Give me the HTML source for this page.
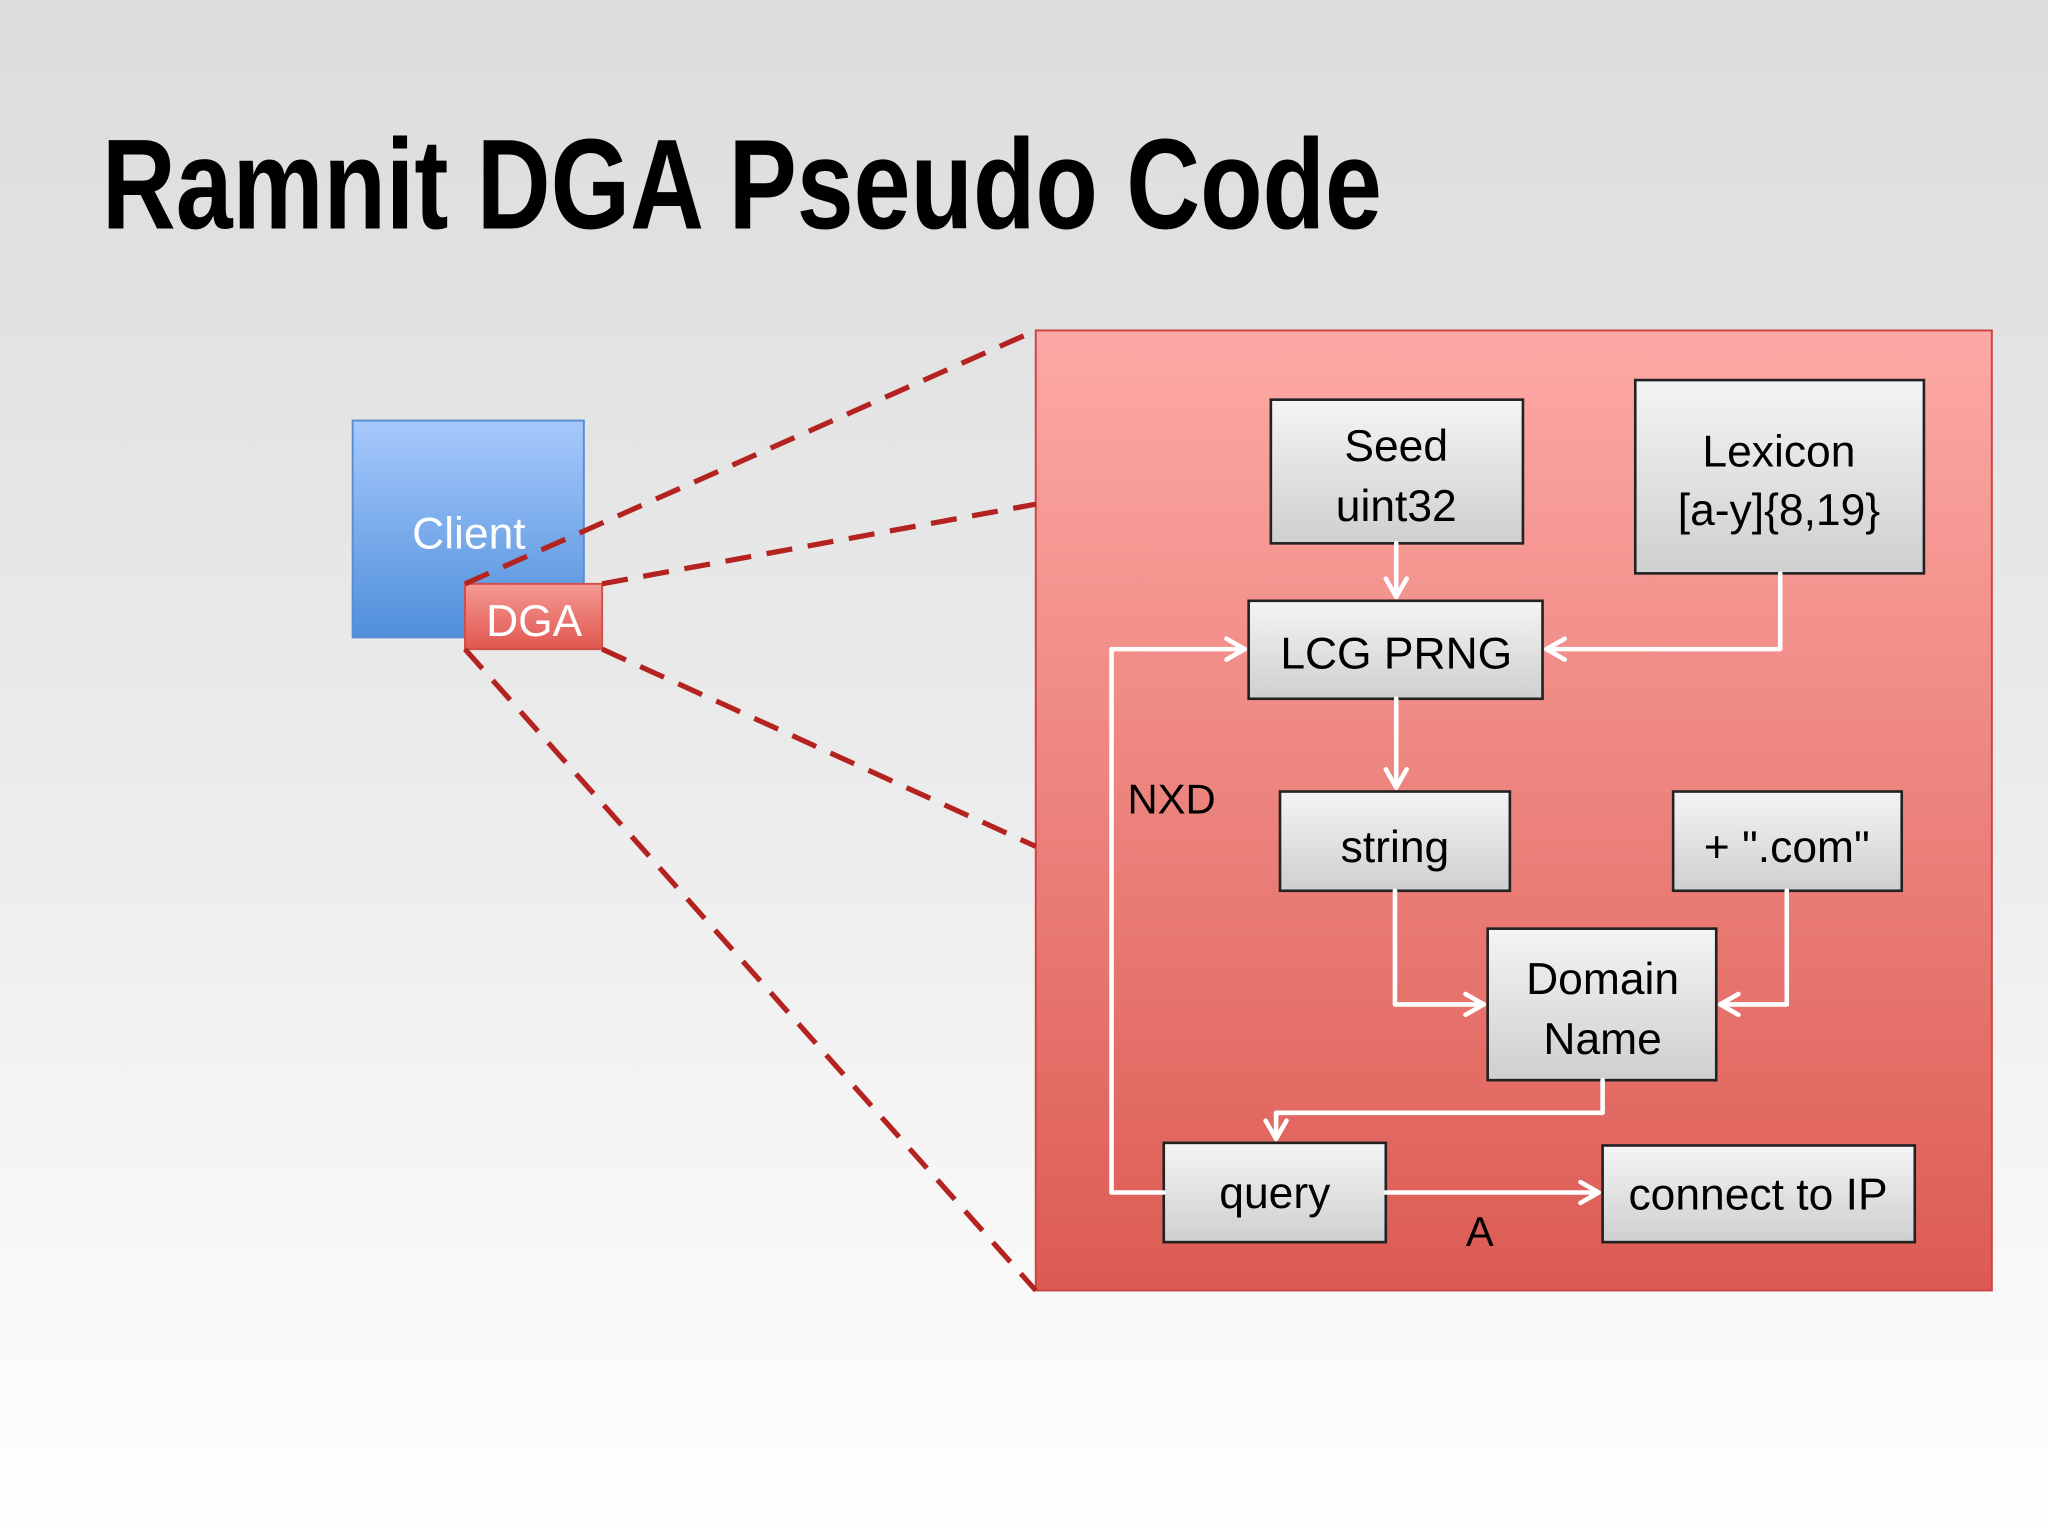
<!DOCTYPE html>
<html><head><meta charset="utf-8"><style>html,body{margin:0;padding:0;width:2048px;height:1536px;overflow:hidden}svg{display:block}</style></head>
<body>
<svg width="2048" height="1536" viewBox="0 0 1568 1176" preserveAspectRatio="none" xmlns="http://www.w3.org/2000/svg" font-family="'Liberation Sans', 'DejaVu Sans', sans-serif">
<defs>
<linearGradient id="bg" x1="0" y1="0" x2="0" y2="1"><stop offset="0" stop-color="#dcdcdc"/><stop offset="0.5" stop-color="#ebebeb"/><stop offset="1" stop-color="#ffffff"/></linearGradient>
<linearGradient id="red" x1="0" y1="0" x2="0" y2="1"><stop offset="0" stop-color="#fda9a5"/><stop offset="1" stop-color="#dc5b53"/></linearGradient>
<linearGradient id="blue" x1="0" y1="0" x2="0" y2="1"><stop offset="0" stop-color="#a7c9fc"/><stop offset="1" stop-color="#4f8fdb"/></linearGradient>
<linearGradient id="dga" x1="0" y1="0" x2="0" y2="1"><stop offset="0" stop-color="#f59a94"/><stop offset="1" stop-color="#e0574f"/></linearGradient>
<linearGradient id="gray" x1="0" y1="0" x2="0" y2="1"><stop offset="0" stop-color="#f4f4f4"/><stop offset="1" stop-color="#cfcfd1"/></linearGradient>
</defs>
<rect width="1568" height="1176" fill="url(#bg)"/>
<text x="78" y="175" font-size="98" font-weight="bold" fill="#000" textLength="980" lengthAdjust="spacingAndGlyphs">Ramnit DGA Pseudo Code</text>

<rect x="793" y="253" width="732" height="735" fill="url(#red)" stroke="#c44" stroke-width="1.5"/>

<rect x="270" y="322" width="177" height="166" fill="url(#blue)" stroke="#5a8ed0" stroke-width="1.5"/>
<text x="359" y="420" font-size="34" fill="#fff" text-anchor="middle">Client</text>
<rect x="356" y="447" width="105" height="50" fill="url(#dga)" stroke="#d0504a" stroke-width="1.5"/>
<text x="409" y="487" font-size="34" fill="#fff" text-anchor="middle">DGA</text>

<g stroke="#b4231f" stroke-width="4" stroke-dasharray="20,12" fill="none">
<line x1="356" y1="447" x2="793" y2="253"/>
<line x1="461" y1="447" x2="793" y2="386"/>
<line x1="461" y1="497" x2="793" y2="648"/>
<line x1="356" y1="497" x2="793" y2="988"/>
</g>

<g fill="url(#gray)" stroke="#222" stroke-width="2">
<rect x="973" y="306" width="193" height="110"/>
<rect x="1252" y="291" width="221" height="148"/>
<rect x="956" y="460" width="225" height="75"/>
<rect x="980" y="606" width="176" height="76"/>
<rect x="1281" y="606" width="175" height="76"/>
<rect x="1139" y="711" width="175" height="116"/>
<rect x="891" y="875" width="170" height="76"/>
<rect x="1227" y="877" width="239" height="74"/>
</g>

<g font-size="34" fill="#000" text-anchor="middle">
<text x="1069" y="353">Seed</text>
<text x="1069" y="399">uint32</text>
<text x="1362" y="357">Lexicon</text>
<text x="1362" y="402">[a-y]{8,19}</text>
<text x="1069" y="512">LCG PRNG</text>
<text x="1068" y="660">string</text>
<text x="1368" y="660">+ ".com"</text>
<text x="1227" y="761">Domain</text>
<text x="1227" y="807">Name</text>
<text x="976" y="925">query</text>
<text x="1346" y="926">connect to IP</text>
<text x="897" y="623" font-size="32">NXD</text>
<text x="1133" y="954" font-size="32">A</text>
</g>

<g stroke="#fff" stroke-width="3.5" fill="none" stroke-linecap="round" stroke-linejoin="round">
<path d="M1069 416 V457"/><path d="M1061 443 L1069 457 L1077 443"/>
<path d="M1363 439 V497 H1184"/><path d="M1198 489 L1184 497 L1198 505"/>
<path d="M1069 535 V603"/><path d="M1061 589 L1069 603 L1077 589"/>
<path d="M1068 682 V769 H1136"/><path d="M1122 761 L1136 769 L1122 777"/>
<path d="M1368 682 V769 H1317"/><path d="M1331 761 L1317 769 L1331 777"/>
<path d="M1227 827 V852 H977 V872"/><path d="M969 858 L977 872 L985 858"/>
<path d="M1061 913 H1224"/><path d="M1210 905 L1224 913 L1210 921"/>
<path d="M891 913 H851 V497 H953"/><path d="M939 489 L953 497 L939 505"/>
</g>
</svg>
</body></html>
